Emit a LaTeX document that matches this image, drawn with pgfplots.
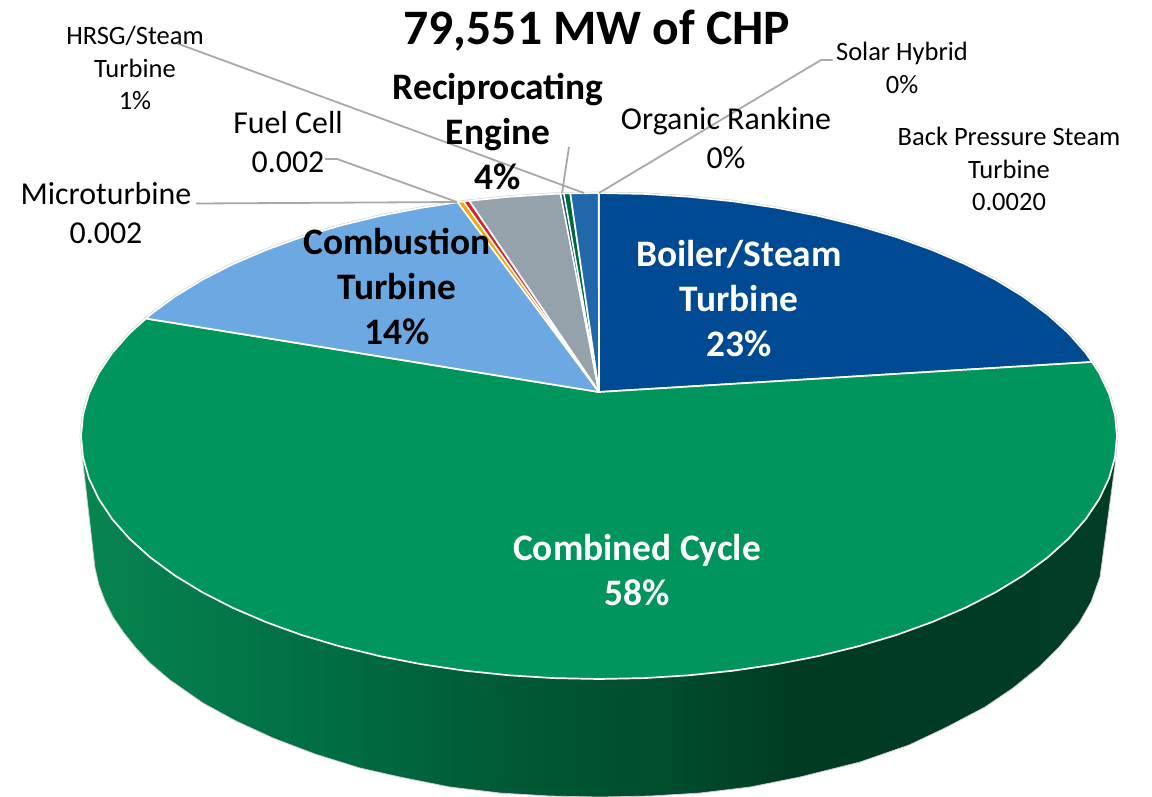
\documentclass[border=0pt]{standalone}
\usepackage{fontspec}
\setmainfont{Carlito}
\usepackage{pgfplots}
\pgfplotsset{compat=1.18}
\definecolor{cBoiler}{HTML}{004A94}
\definecolor{cCombined}{HTML}{00955C}
\definecolor{cCT}{HTML}{6CA9E3}
\definecolor{cRecip}{HTML}{95A1AB}
\definecolor{cSteel}{HTML}{2068A9}
\definecolor{cThinG}{HTML}{00693A}
\definecolor{cThinN}{HTML}{1C4E80}
\definecolor{cOrange}{HTML}{F2A900}
\definecolor{cRed}{HTML}{D2232E}
\definecolor{cLead}{HTML}{A8A8A8}
\definecolor{cEdge}{HTML}{CFCFCF}
\definecolor{sA}{HTML}{08864F}
\definecolor{sB}{HTML}{04794A}
\definecolor{sC}{HTML}{006B41}
\definecolor{sD}{HTML}{005A36}
\definecolor{sE}{HTML}{004B2B}
\definecolor{sF}{HTML}{003B22}
\definecolor{sG}{HTML}{003D24}
\pgfdeclarehorizontalshading{sideshade}{100bp}{
  color(0bp)=(sA);
  color(25bp)=(sA);
  color(30.7bp)=(sB);
  color(38bp)=(sC);
  color(45.2bp)=(sD);
  color(53.9bp)=(sE);
  color(59.7bp)=(sF);
  color(75bp)=(sG);
  color(100bp)=(sG)}
\tikzset{lbl/.style={align=center, inner sep=0pt, text=black},
  big/.style={lbl, font=\fontsize{37.4}{45}\selectfont\bfseries},
  mid/.style={lbl, font=\fontsize{31.9}{39}\selectfont},
  small/.style={lbl, font=\fontsize{26.5}{32.5}\selectfont}}
\begin{document}
\begin{tikzpicture}
\begin{axis}[
  width=1152pt, height=796pt, scale only axis, hide axis,
  xmin=0, xmax=1152, ymin=0, ymax=796, y dir=reverse,
  every axis plot/.append style={no marks, forget plot, line join=round},
]
\addplot[draw=none] coordinates {(0,0)(1152,796)};
% side wall
\addplot[draw=cEdge, line width=0.7pt, shade, shading=sideshade, shading angle=0] coordinates {
 (82,450)(83,463)(95,568)(99,585)(105,601)(113,617)(124,633)(136,648)(150,663)(170,680)(203,703)(236,721)(273,738)(315,754)(360,768)(400,777)(450,787)(500,793)(550,796)(600,797)(650,796)(700,793)(750,787)(800,777)(860,762)(909,745)(945,728)(985,707)(1013,688)(1039,667)(1060,646)(1079,623)(1091,602)(1100,577)(1115,465)(1116,450)(599,400)(82,450)};
% grey rim of the upper edge
\addplot[draw=cEdge, line width=2.8pt] coordinates {
 (83,457.2)(81,436)(83,414.8)(88.9,393.8)(98.7,373.1)(112.2,352.9)(129.5,333.3)(150.4,314.5)(174.7,296.6)(202.2,279.8)(232.7,264.2)(266,249.9)(301.9,236.9)(340,225.6)(380.1,215.8)(421.8,207.7)(464.9,201.3)(509.1,196.7)(553.8,193.9)(599,193)(644.2,193.9)(688.9,196.7)(733.1,201.3)(776.2,207.7)(817.9,215.8)(858,225.6)(896.1,236.9)(932,249.9)(965.3,264.2)(995.8,279.8)(1023.3,296.6)(1047.6,314.5)(1068.5,333.3)(1085.8,352.9)(1099.3,373.1)(1109.1,393.8)(1115,414.8)(1117,436)(1115,457.2)};
% Boiler/Steam Turbine
\addplot[fill=cBoiler, draw=white, line width=1.7pt] coordinates {
 (599,392)(598.7,193)(644.2,193.9)(688.9,196.7)(733.1,201.3)(776.2,207.7)(817.9,215.8)(858,225.6)(896.1,236.9)(932,249.9)(965.3,264.2)(995.8,279.8)(1023.3,296.6)(1047.6,314.5)(1068.5,333.3)(1085.8,352.9)(1092,362)(599,392)};
% Combined Cycle
\addplot[fill=cCombined, draw=white, line width=1.7pt] coordinates {
 (599,392)(1092,362)(1099.3,373.1)(1109.1,393.8)(1115,414.8)(1117,436)(1115,457.2)(1109.1,478.2)(1099.3,498.9)(1085.8,519.1)(1068.5,538.7)(1047.6,557.5)(1023.3,575.4)(995.8,592.2)(965.3,607.8)(932,622.1)(896.1,635.1)(858,646.4)(817.9,656.2)(776.2,664.3)(733.1,670.7)(688.9,675.3)(644.2,678.1)(599,679)(553.8,678.1)(509.1,675.3)(464.9,670.7)(421.8,664.3)(380.1,656.2)(340,646.4)(301.9,635.1)(266,622.1)(232.7,607.8)(202.2,592.2)(174.7,575.4)(150.4,557.5)(129.5,538.7)(112.2,519.1)(98.7,498.9)(88.9,478.2)(83,457.2)(81,436)(83,414.8)(88.9,393.8)(98.7,373.1)(112.2,352.9)(129.5,333.3)(146,318.5)(599,392)};
% Combustion Turbine
\addplot[fill=cCT, draw=white, line width=1.7pt] coordinates {
 (599,392)(146,318.5)(150.4,314.5)(174.7,296.6)(202.2,279.8)(232.7,264.2)(266,249.9)(301.9,236.9)(340,225.6)(380.1,215.8)(421.8,207.7)(457.7,202.2)(599,392)};
% Microturbine
\addplot[fill=cOrange, draw=white, line width=1.4pt] coordinates {(599,392)(457.7,202.2)(463.6,201.5)(599,392)};
% Fuel Cell
\addplot[fill=cRed, draw=white, line width=1.4pt] coordinates {(599,392)(463.6,201.5)(469.3,200.8)(599,392)};
% Reciprocating Engine
\addplot[fill=cRecip, draw=white, line width=1.7pt] coordinates {(599,392)(469.3,200.8)(509.1,196.7)(553.8,193.9)(560.6,193.7)(599,392)};
% Organic Rankine
\addplot[fill=cThinN, draw=white, line width=1.4pt] coordinates {(599,392)(560.6,193.7)(564,193.5)(599,392)};
% Solar Hybrid
\addplot[fill=cThinG, draw=white, line width=1.4pt] coordinates {(599,392)(564,193.5)(570.3,193.4)(599,392)};
% HRSG/Steam Turbine
\addplot[fill=cSteel, draw=white, line width=1.7pt] coordinates {(599,392)(570.3,193.4)(598.7,193)(599,392)};
% leader lines
\addplot[draw=cLead, line width=1.8pt] coordinates {(196,203.5)(457,202)};
\addplot[draw=cLead, line width=1.8pt] coordinates {(325,159)(337,159)(457,202)};
\addplot[draw=cLead, line width=1.8pt] coordinates {(176,43)(584,193)};
\addplot[draw=cLead, line width=1.8pt] coordinates {(569,147)(562,193)};
\addplot[draw=cLead, line width=1.8pt] coordinates {(599,193)(821,60)(832.5,60)};
% texts
\node[lbl, font=\fontsize{49.6}{56}\selectfont\bfseries] at (axis cs:597,31) {79,551 MW of CHP};
\node[small] at (axis cs:135,68) {HRSG/Steam\\Turbine\\1\%};
\node[mid] at (axis cs:288,142) {Fuel Cell\\0.002};
\node[mid] at (axis cs:106,213) {Microturbine\\0.002};
\node[big] at (axis cs:498,132) {Reciprocating\\Engine\\4\%};
\node[big] at (axis cs:397,286) {Combustion\\Turbine\\14\%};
\node[big, text=white] at (axis cs:739,299) {Boiler/Steam\\Turbine\\23\%};
\node[big, text=white] at (axis cs:637,570) {Combined Cycle\\58\%};
\node[mid] at (axis cs:726,138) {Organic Rankine\\0\%};
\node[small] at (axis cs:902,68) {Solar Hybrid\\0\%};
\node[small] at (axis cs:1009,169) {Back Pressure Steam\\Turbine\\0.0020};
\end{axis}
\end{tikzpicture}
\end{document}
